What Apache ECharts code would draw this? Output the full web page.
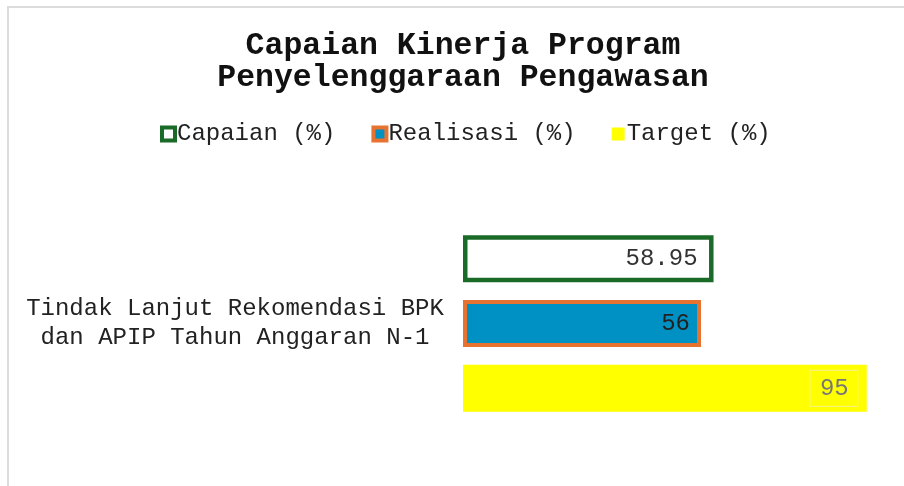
<!DOCTYPE html>
<html>
<head>
<meta charset="utf-8">
<script src="https://cdn.jsdelivr.net/npm/echarts@6/dist/echarts.min.js"></script>
<style>
  html, body { margin: 0; padding: 0; background: #fff; }
  .frame {
    position: absolute; left: 7px; top: 6px; width: 920px; height: 500px;
    border-top: 2px solid #dcdcdc; border-left: 2px solid #dcdcdc;
  }
  #chart { position: absolute; left: 0; top: 0; width: 904px; height: 486px; }
</style>
</head>
<body>
<div class="frame"></div>
<div id="chart"></div>
<script>
// data
const categories = ['Tindak Lanjut Rekomendasi BPK\ndan APIP Tahun Anggaran N-1']
const capaian = [58.95]
const realisasi = [56]
const target = [95]

const mono = 'Liberation Mono'
const chart = echarts.init(document.getElementById('chart'))

chart.setOption({
  animation: false,
  title: {
    text: 'Capaian Kinerja Program\nPenyelenggaraan Pengawasan',
    left: 458,
    top: 25,
    textAlign: 'center',
    textStyle: {
      fontFamily: mono,
      fontSize: 31.5,
      fontWeight: 'bold',
      color: '#111',
      lineHeight: 32
    }
  },
  legend: {
    data: [
      { name: 'Capaian (%)', itemStyle: { color: '#fff', borderColor: '#1b6b28', borderWidth: 4 } },
      { name: 'Realisasi (%)', itemStyle: { color: '#0091c4', borderColor: '#e8722f', borderWidth: 4 } },
      { name: 'Target (%)', itemStyle: { color: '#ffff00', borderWidth: 0 } }
    ],
    icon: 'rect',
    top: 117,
    left: 155,
    itemWidth: 13,
    itemHeight: 13,
    itemGap: 36,
    textStyle: { fontFamily: mono, fontSize: 24, color: '#222', padding: [0, 0, 0, -3] }
  },
  grid: {
    left: 463,
    right: 16,
    top: 220,
    bottom: 59
  },
  xAxis: {
    type: 'value',
    min: 0,
    max: 100,
    show: false
  },
  yAxis: {
    type: 'category',
    data: categories,
    inverse: true,
    axisLine: { show: false },
    axisTick: { show: false },
    axisLabel: {
      fontFamily: mono,
      fontSize: 24,
      color: '#222',
      align: 'center',
      margin: 228,
      lineHeight: 29
    }
  },
  series: [
    {
      name: 'Capaian (%)',
      type: 'bar',
      data: capaian,
      barWidth: 47,
      barGap: '38%',
      itemStyle: { color: '#ffffff', borderColor: '#1b6b28', borderWidth: 4.5 },
      label: {
        show: true,
        position: 'insideRight',
        distance: 16,
        fontFamily: mono,
        fontSize: 24,
        color: '#333'
      }
    },
    {
      name: 'Realisasi (%)',
      type: 'bar',
      data: realisasi,
      barWidth: 47,
      itemStyle: { color: '#0091c4', borderColor: '#e8722f', borderWidth: 4 },
      label: {
        show: true,
        position: 'insideRight',
        distance: 11,
        fontFamily: mono,
        fontSize: 24,
        color: '#222'
      }
    },
    {
      name: 'Target (%)',
      type: 'bar',
      data: target,
      barWidth: 47,
      itemStyle: { color: '#ffff00' },
      label: {
        show: true,
        position: 'insideRight',
        distance: 9,
        fontFamily: mono,
        fontSize: 24,
        color: '#777',
        borderColor: '#f4f48c',
        borderWidth: 1,
        padding: [7, 9, 5, 10]
      }
    }
  ]
})
</script>
</body>
</html>
